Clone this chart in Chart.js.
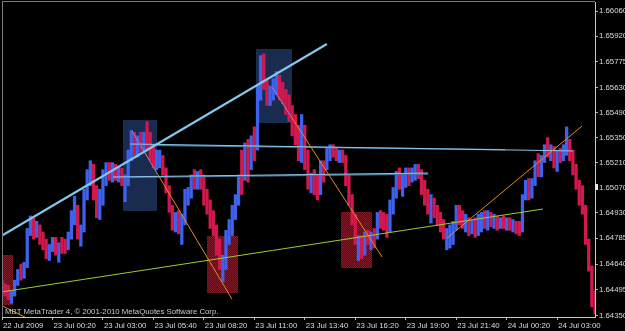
<!DOCTYPE html>
<html><head><meta charset="utf-8">
<script src="https://cdn.jsdelivr.net/npm/chart.js@4.4.1/dist/chart.umd.min.js"></script>
<style>html,body{margin:0;padding:0;background:#000;overflow:hidden}canvas{display:block}</style>
</head><body>
<canvas id="c" width="625" height="331" style="width:625px;height:331px"></canvas>
<script>
// ---- tick labels ----
const xTickLabels = ['22 Jul 2009','23 Jul 00:20','23 Jul 03:00','23 Jul 05:40','23 Jul 08:20','23 Jul 11:00',
  '23 Jul 13:40','23 Jul 16:20','23 Jul 19:00','23 Jul 21:40','24 Jul 00:20','24 Jul 03:00'];
const barsPerLabel = 16;
const yTickLabels = ['1.66060','1.65920','1.65775','1.65630','1.65490','1.65350','1.65210',
  '1.65070','1.64930','1.64785','1.64640','1.64495','1.64350'];
const yMin = 1.64343, yMax = 1.66111;

// ---- price bars (10-minute bars) ----
const firstOpen = 1.6454;
const high = [
1.6455,1.6453,1.6452,1.6449,1.6455,1.6461,1.6464,1.6465,1.6484,1.6491,
1.6490,1.6488,1.6486,1.6482,1.6478,1.6475,1.6479,1.6479,1.6476,1.6479,
1.6478,1.6482,1.6494,1.6502,1.6497,1.6486,1.6506,1.6517,1.6522,1.6520,
1.6508,1.6506,1.6517,1.6521,1.6521,1.6521,1.6520,1.6519,1.6518,1.6514,
1.6528,1.6539,1.6538,1.6536,1.6538,1.6538,1.6544,1.6538,1.6531,1.6528,
1.6528,1.6525,1.6518,1.6508,1.6497,1.6493,1.6494,1.6492,1.6506,1.6507,
1.6514,1.6517,1.6516,1.6517,1.6514,1.6506,1.6500,1.6494,1.6486,1.6478,
1.6469,1.6483,1.6489,1.6497,1.6503,1.6514,1.6528,1.6532,1.6534,1.6536,
1.6541,1.6564,1.6581,1.6582,1.6567,1.6564,1.6568,1.6572,1.6570,1.6566,
1.6562,1.6559,1.6553,1.6548,1.6542,1.6548,1.6542,1.6528,1.6515,1.6517,
1.6514,1.6522,1.6522,1.6529,1.6531,1.6531,1.6529,1.6528,1.6528,1.6525,
1.6514,1.6503,1.6492,1.6480,1.6480,1.6482,1.6483,1.6482,1.6484,1.6493,
1.6494,1.6493,1.6492,1.6500,1.6507,1.6516,1.6518,1.6514,1.6518,1.6518,
1.6518,1.6520,1.6520,1.6517,1.6511,1.6506,1.6503,1.6501,1.6497,1.6493,
1.6489,1.6484,1.6486,1.6488,1.6497,1.6497,1.6494,1.6492,1.6490,1.6489,
1.6490,1.6492,1.6493,1.6494,1.6494,1.6493,1.6492,1.6491,1.6490,1.6491,
1.6490,1.6490,1.6489,1.6488,1.6488,1.6503,1.6511,1.6512,1.6512,1.6522,
1.6526,1.6525,1.6531,1.6535,1.6531,1.6530,1.6528,1.6529,1.6531,1.6541,
1.6534,1.6528,1.6520,1.6511,1.6508,1.6497,1.6478,1.6463,1.6449];
const low = [
1.6448,1.6446,1.6444,1.6442,1.6446,1.6452,1.6455,1.6456,1.6462,1.6480,
1.6478,1.6479,1.6475,1.6472,1.6467,1.6466,1.6471,1.6469,1.6465,1.6470,
1.6470,1.6472,1.6478,1.6486,1.6478,1.6474,1.6482,1.6500,1.6508,1.6500,
1.6490,1.6489,1.6497,1.6508,1.6511,1.6510,1.6511,1.6510,1.6508,1.6499,
1.6508,1.6522,1.6525,1.6524,1.6527,1.6528,1.6528,1.6522,1.6518,1.6517,
1.6518,1.6514,1.6504,1.6493,1.6483,1.6482,1.6481,1.6475,1.6486,1.6497,
1.6501,1.6506,1.6506,1.6506,1.6497,1.6492,1.6484,1.6480,1.6469,1.6461,
1.6454,1.6461,1.6475,1.6480,1.6489,1.6497,1.6503,1.6511,1.6510,1.6517,
1.6522,1.6528,1.6556,1.6562,1.6553,1.6553,1.6556,1.6559,1.6556,1.6554,
1.6548,1.6544,1.6536,1.6531,1.6522,1.6521,1.6517,1.6506,1.6504,1.6503,
1.6500,1.6503,1.6510,1.6517,1.6522,1.6524,1.6522,1.6521,1.6521,1.6508,
1.6497,1.6486,1.6475,1.6466,1.6467,1.6469,1.6475,1.6472,1.6473,1.6478,
1.6484,1.6483,1.6479,1.6482,1.6492,1.6501,1.6506,1.6502,1.6507,1.6508,
1.6510,1.6511,1.6512,1.6503,1.6497,1.6492,1.6487,1.6490,1.6486,1.6482,
1.6478,1.6472,1.6473,1.6475,1.6483,1.6486,1.6484,1.6482,1.6480,1.6481,
1.6479,1.6480,1.6482,1.6484,1.6483,1.6485,1.6484,1.6483,1.6484,1.6484,
1.6483,1.6483,1.6482,1.6481,1.6480,1.6482,1.6500,1.6500,1.6501,1.6508,
1.6513,1.6513,1.6521,1.6524,1.6522,1.6518,1.6516,1.6521,1.6522,1.6525,
1.6522,1.6514,1.6506,1.6497,1.6492,1.6475,1.6460,1.6440,1.6436];
const close = [
1.6449,1.6447,1.6445,1.6448,1.6454,1.6458,1.6457,1.6463,1.6482,1.6488,
1.6480,1.6485,1.6478,1.6474,1.6470,1.6472,1.6478,1.6472,1.6474,1.6473,
1.6471,1.6480,1.6492,1.6497,1.6480,1.6483,1.6503,1.6514,1.6517,1.6503,
1.6494,1.6501,1.6514,1.6518,1.6516,1.6517,1.6514,1.6516,1.6511,1.6511,
1.6525,1.6535,1.6528,1.6534,1.6531,1.6535,1.6534,1.6525,1.6521,1.6525,
1.6526,1.6517,1.6507,1.6495,1.6488,1.6490,1.6484,1.6486,1.6503,1.6504,
1.6511,1.6508,1.6514,1.6508,1.6500,1.6494,1.6486,1.6484,1.6472,1.6465,
1.6465,1.6480,1.6484,1.6494,1.6500,1.6511,1.6508,1.6528,1.6514,1.6534,
1.6528,1.6562,1.6573,1.6564,1.6556,1.6562,1.6564,1.6567,1.6559,1.6557,
1.6550,1.6546,1.6539,1.6534,1.6525,1.6542,1.6520,1.6508,1.6512,1.6506,
1.6503,1.6520,1.6512,1.6527,1.6529,1.6527,1.6525,1.6526,1.6522,1.6511,
1.6500,1.6489,1.6478,1.6479,1.6472,1.6479,1.6478,1.6480,1.6478,1.6492,
1.6489,1.6486,1.6483,1.6497,1.6504,1.6512,1.6508,1.6511,1.6516,1.6511,
1.6516,1.6517,1.6514,1.6506,1.6500,1.6494,1.6500,1.6493,1.6489,1.6484,
1.6480,1.6481,1.6482,1.6484,1.6494,1.6489,1.6486,1.6489,1.6483,1.6486,
1.6482,1.6489,1.6492,1.6486,1.6492,1.6488,1.6490,1.6485,1.6489,1.6486,
1.6488,1.6484,1.6486,1.6483,1.6482,1.6501,1.6508,1.6503,1.6510,1.6520,
1.6517,1.6522,1.6529,1.6528,1.6530,1.6522,1.6525,1.6524,1.6529,1.6534,
1.6525,1.6517,1.6508,1.6500,1.6494,1.6478,1.6462,1.6444,1.6441];

// ---- drawn objects, in bar-index / price units ----
const navyBoxes = [[38.4, 49.1, 1.6545, 1.6494], [80.5, 91.9, 1.6585, 1.6543]];
const redBoxes = [[-1, 3.5, 1.6469, 1.6441], [65.0, 74.8, 1.6480, 1.6448], [107.5, 117.3, 1.6493, 1.6462]];
const blueTrend = [[0, 1.6480, 103.0, 1.65875]];
const steelLines = [[46.9, 1.65307, 159.5, 1.65282], [35.2, 1.65125, 135.1, 1.65146]];
const lightLines = [[40.6, 1.65314, 181.0, 1.65275], [35.2, 1.65129, 135.1, 1.65151]];
const greenLines = [[0, 1.64484, 171.5, 1.64949]];
const orangeLines = [[41.2, 1.65387, 72.9, 1.64444], [85.6, 1.65634, 120.5, 1.64680],
  [141.1, 1.64786, 183.9, 1.65415], [-0.6, 1.64411, 8.9, 1.64328]];
const bidPrice = 1.65070;
const copyright = 'MBT MetaTrader 4, \u00A9 2001-2010 MetaQuotes Software Corp.';

const FONT = '"Liberation Sans", Arial, sans-serif';
const UP = '#3d62ee', DOWN = '#d2184c';
const colors = close.map((c, i) => (c >= (i ? close[i - 1] : firstOpen)) ? UP : DOWN);

const pc = document.createElement('canvas'); pc.width = 2; pc.height = 2;
const pctx = pc.getContext('2d');
pctx.fillStyle = '#7c1f2b'; pctx.fillRect(0,0,2,2);
pctx.fillStyle = '#4a1018'; pctx.fillRect(1,0,1,1); pctx.fillRect(0,1,1,1);

function strokeSet(ctx, x, y, set, color, w) {
  ctx.strokeStyle = color; ctx.lineWidth = w;
  for (const l of set) {
    ctx.beginPath();
    ctx.moveTo(x.getPixelForValue(l[0]), y.getPixelForValue(l[1]));
    ctx.lineTo(x.getPixelForValue(l[2]), y.getPixelForValue(l[3]));
    ctx.stroke();
  }
}
function boxPx(x, y, b) {
  const x1 = Math.round(x.getPixelForValue(b[0])), x2 = Math.round(x.getPixelForValue(b[1]));
  const y1 = Math.round(y.getPixelForValue(b[2])), y2 = Math.round(y.getPixelForValue(b[3]));
  return [x1, y1, x2 - x1, y2 - y1];
}

const mt4 = {
  id: 'mt4',
  beforeDraw(chart) {
    const ctx = chart.ctx;
    ctx.save(); ctx.fillStyle = '#000'; ctx.fillRect(0, 0, chart.width, chart.height); ctx.restore();
  },
  beforeDatasetsDraw(chart) {
    const {ctx, chartArea: a, scales: {x, y}} = chart;
    ctx.save();
    ctx.beginPath(); ctx.rect(a.left, a.top, a.right - a.left, a.bottom - a.top); ctx.clip();
    ctx.fillStyle = '#1a2b50';
    for (const b of navyBoxes) ctx.fillRect(...boxPx(x, y, b));
    ctx.fillStyle = ctx.createPattern(pc, 'repeat');
    for (const b of redBoxes) ctx.fillRect(...boxPx(x, y, b));
    ctx.restore();
  },
  afterDatasetsDraw(chart) {
    const {ctx, chartArea: a, scales: {x, y}} = chart;
    ctx.save();
    ctx.beginPath(); ctx.rect(a.left, a.top, a.right - a.left, a.bottom - a.top); ctx.clip();
    strokeSet(ctx, x, y, steelLines, '#3f76a0', 1.4);
    strokeSet(ctx, x, y, lightLines, '#8cc8ec', 1);
    strokeSet(ctx, x, y, greenLines, '#9acd32', 1);
    strokeSet(ctx, x, y, orangeLines, '#e38d1e', 1);
    for (const b of navyBoxes) {
      ctx.save();
      const r = boxPx(x, y, b);
      ctx.beginPath(); ctx.rect(r[0], r[1], r[2], r[3]); ctx.clip();
      strokeSet(ctx, x, y, orangeLines, '#8a66d8', 1);
      ctx.restore();
    }
    strokeSet(ctx, x, y, blueTrend, '#84c6ee', 2.2);
    ctx.fillStyle = '#c8c8c8';
    ctx.font = '7.8px ' + FONT;
    ctx.textBaseline = 'alphabetic'; ctx.textAlign = 'left';
    ctx.fillText(copyright, 5, 314);
    ctx.restore();
    // frame
    ctx.save();
    ctx.strokeStyle = '#7a7a7a'; ctx.lineWidth = 1;
    ctx.beginPath();
    ctx.moveTo(a.left, 1.5); ctx.lineTo(a.right, 1.5);
    ctx.moveTo(a.left + 0.5, 1.5); ctx.lineTo(a.left + 0.5, a.bottom);
    ctx.stroke();
    const by = Math.round(y.getPixelForValue(bidPrice));
    ctx.fillStyle = '#e8e8e8';
    ctx.fillRect(a.right, by - 3, 3, 6);
    ctx.restore();
  }
};

new Chart(document.getElementById('c'), {
  type: 'bar',
  data: {
    datasets: [{
      data: high.map((h, i) => ({x: i, y: [low[i], h]})),
      backgroundColor: colors,
      borderWidth: 0,
      barThickness: 2.6,
      grouped: false
    }]
  },
  options: {
    responsive: false,
    animation: false,
    devicePixelRatio: 1,
    layout: {padding: {left: 2, top: 2, right: 0, bottom: 0}},
    plugins: {legend: {display: false}, tooltip: {enabled: false}},
    scales: {
      x: {
        type: 'linear', min: 0, max: high.length - 1, offset: false, bounds: 'data',
        grid: {offset: false, drawOnChartArea: false, drawTicks: true, tickLength: 3, color: '#b4b4b4'},
        border: {display: true, color: '#c8c8c8'},
        ticks: {autoSkip: false, maxRotation: 0, minRotation: 0, align: 'start', labelOffset: 1, padding: 1,
          color: '#dcdcdc', font: {family: FONT, size: 7.8},
          callback: (v) => xTickLabels[Math.round(v / barsPerLabel)]},
        afterBuildTicks: (ax) => { ax.ticks = xTickLabels.map((t, k) => ({value: k * barsPerLabel})); },
        afterFit: (s) => { s.height = 14; s.paddingLeft = 0; s.paddingRight = 0; }
      },
      y: {
        position: 'right', min: yMin, max: yMax, bounds: 'data', beginAtZero: false,
        grid: {drawOnChartArea: false, drawTicks: true, tickLength: 3, color: '#b4b4b4'},
        border: {display: true, color: '#c8c8c8'},
        ticks: {autoSkip: false, padding: 1, color: '#dcdcdc', font: {family: FONT, size: 7.8},
          callback: (v, i) => yTickLabels[i]},
        afterBuildTicks: (ax) => { ax.ticks = yTickLabels.map((s) => ({value: parseFloat(s)})); },
        afterFit: (s) => { s.width = 30; s.paddingTop = 0; s.paddingBottom = 0; }
      }
    }
  },
  plugins: [mt4]
});
</script>
</body></html>
